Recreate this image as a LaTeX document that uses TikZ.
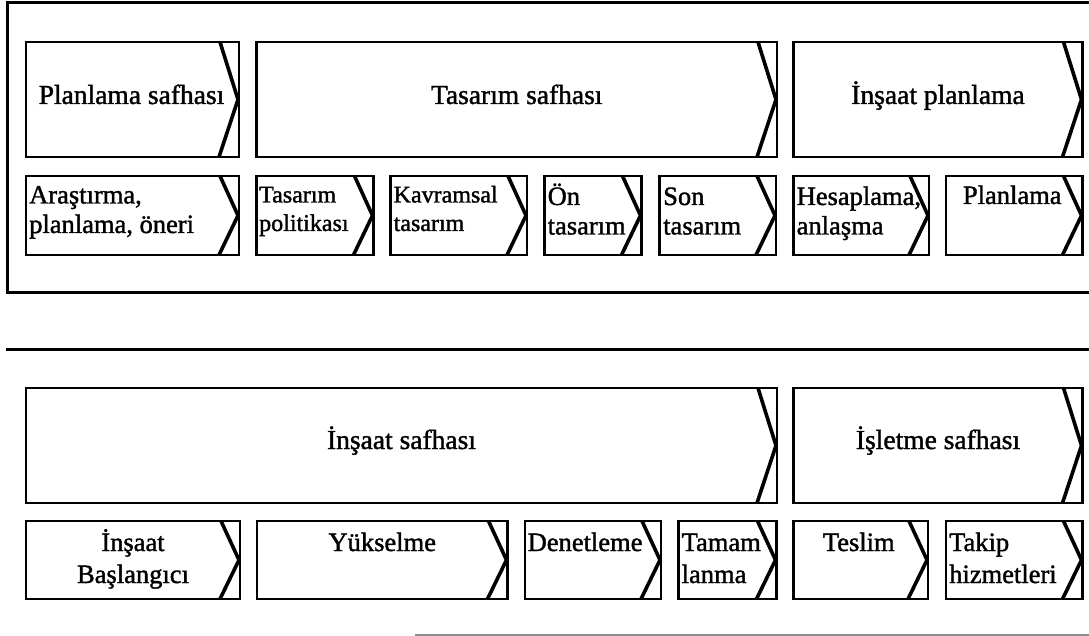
\documentclass[tikz,border=0pt]{standalone}
\usepackage{fontspec}
\setmainfont{Liberation Serif}[FakeBold=1.4]
\usetikzlibrary{calc}
\tikzset{
  box/.style={draw, line width=2.8pt, rectangle, inner sep=0pt, outer sep=0pt, anchor=north west},
  chev/.style={line width=3.6pt, line join=round},
  frame/.style={line width=3pt},
  bigtxt/.style={font=\fontsize{27.5}{30}\selectfont, anchor=base, inner sep=0pt},
  smtxt/.style={font=\fontsize{26.5}{29.5}\selectfont, anchor=base west, inner sep=0pt},
  smctxt/.style={font=\fontsize{26.5}{32}\selectfont, anchor=base, inner sep=0pt},
  lowtxt/.style={font=\fontsize{26.5}{32}\selectfont, anchor=base west, inner sep=0pt},
  tinytxt/.style={font=\fontsize{24}{28.5}\selectfont, anchor=base west, inner sep=0pt},
}
\newcommand\phasebox[5]{%
  \node[box, minimum width={(#4)-(#2)}, minimum height={(#5)-(#3)}] (#1) at (#2,#3) {};
  \draw[chev] ($(#1.north east)+(-19,0)$) -- ($(#1.east)+(-1,0)$) -- ($(#1.south east)+(-20,0)$);
}
\newcommand\lines[1]{\begin{tabular}[t]{@{}l@{}}#1\end{tabular}}
\newcommand\clines[1]{\begin{tabular}[t]{@{}c@{}}#1\end{tabular}}
\begin{document}
\begin{tikzpicture}[x=1pt,y=-1pt]
\useasboundingbox (0,0) rectangle (1089,636);
\fill[white] (0,0) rectangle (1089,636);
% outer frame and separators
\coordinate (ftr) at (1089,3);
\coordinate (ftl) at (7.5,3);
\coordinate (fbl) at (7.5,292);
\coordinate (fbr) at (1089,292);
\draw[frame] (ftr) -- (ftl) -- (fbl) -- (fbr);
\coordinate (sepl) at (6,349);
\coordinate (sepr) at (1089,349);
\draw[frame] (sepl) -- (sepr);
\coordinate (botl) at (415,635);
\coordinate (botr) at (1089,635);
\draw[line width=2pt, black!45] (botl) -- (botr);

% upper phases
\phasebox{planP}{26}{42}{239}{157}
\phasebox{tasP}{256.5}{42}{777}{157}
\phasebox{insP}{793.5}{42}{1082.5}{157}
\node[bigtxt] (tplanP) at ([xshift=-1pt,yshift=-4.5pt]planP.center) {Planlama safhası};
\node[bigtxt] (ttasP) at ([yshift=-4.5pt]tasP.center) {Tasarım safhası};
\node[bigtxt] (tinsP) at ([yshift=-4.5pt]insP.center) {İnşaat planlama};

% upper steps
\phasebox{arast}{26}{176}{239}{255}
\phasebox{tpol}{256.5}{176}{373.5}{255}
\phasebox{kavr}{390.5}{176}{527}{255}
\phasebox{ont}{544.5}{176}{641.5}{255}
\phasebox{sont}{659.5}{176}{776}{255}
\phasebox{hesap}{793.5}{176}{929}{255}
\phasebox{plan}{946}{176}{1082.5}{255}
\node[smtxt] (tarast) at ($(arast.north west)+(3,27.5)$) {\lines{Araştırma,\\planlama, öneri}};
\node[tinytxt] (ttpol) at ($(tpol.north west)+(2.5,26.5)$) {\lines{Tasarım\\politikası}};
\node[tinytxt] (tkavr) at ($(kavr.north west)+(3,26.5)$) {\lines{Kavramsal\\tasarım}};
\node[smtxt] (tont) at ($(ont.north west)+(3,29)$) {\lines{Ön\\tasarım}};
\node[smtxt] (tsont) at ($(sont.north west)+(3.5,29)$) {\lines{Son\\tasarım}};
\node[smtxt] (thesap) at ($(hesap.north west)+(3,29)$) {\lines{Hesaplama,\\anlaşma}};
\node[smctxt] (tplan) at ($(plan.north)+(-2,28)$) {Planlama};

% lower phases
\phasebox{insS}{26}{388}{777}{503}
\phasebox{islS}{793.5}{388}{1082.5}{503}
\node[bigtxt] (tinsS) at ([yshift=-3.5pt]insS.center) {İnşaat safhası};
\node[bigtxt] (tislS) at ([yshift=-3.5pt]islS.center) {İşletme safhası};

% lower steps
\phasebox{basl}{26}{521}{240}{599}
\phasebox{yuk}{257}{521}{507.5}{599}
\phasebox{denet}{525}{521}{661}{599}
\phasebox{tamam}{678.5}{521}{776.5}{599}
\phasebox{teslim}{793.5}{521}{928}{599}
\phasebox{takip}{946}{521}{1082.5}{599}
\node[smctxt] (tbasl) at ($(basl.north)+(0,30)$) {\clines{İnşaat\\Başlangıcı}};
\node[smctxt] (tyuk) at ($(yuk.north)+(0,30)$) {Yükselme};
\node[lowtxt] (tdenet) at ($(denet.north west)+(2.5,30)$) {Denetleme};
\node[lowtxt] (ttamam) at ($(tamam.north west)+(3,30)$) {\lines{Tamam\\lanma}};
\node[smctxt] (tteslim) at ($(teslim.north)+(-2,30)$) {Teslim};
\node[lowtxt] (ttakip) at ($(takip.north west)+(3,30)$) {\lines{Takip\\hizmetleri}};
\end{tikzpicture}
\end{document}
